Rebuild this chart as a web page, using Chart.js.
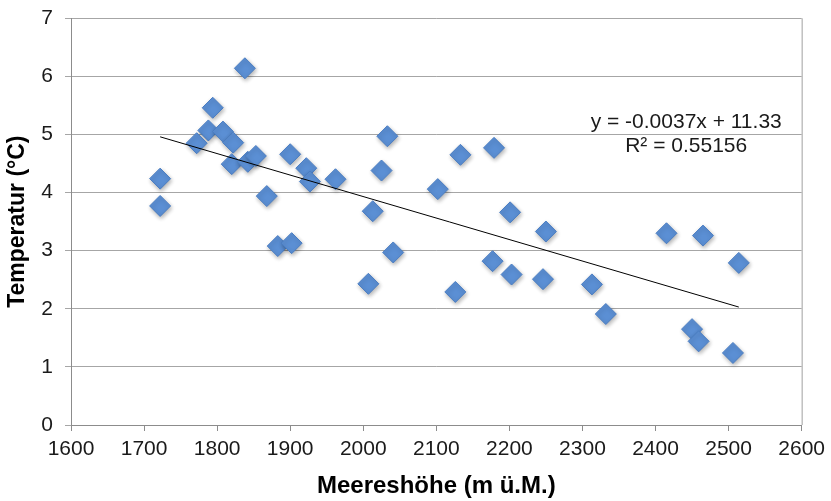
<!DOCTYPE html>
<html>
<head>
<meta charset="utf-8">
<script src="https://cdn.jsdelivr.net/npm/chart.js@4/dist/chart.umd.min.js"></script>
<style>
  html, body { margin: 0; padding: 0; background: #fff; }
  #wrap { width: 831px; height: 501px; }
</style>
</head>
<body>
<div id="wrap"><canvas id="myChart" width="831" height="501"></canvas></div>
<script>
// Messpunkte (Meereshöhe / Temperatur)
const hoehe = [1722, 1722, 1838, 1794, 1788, 1772, 1808, 1822, 1820, 1842,
               1853, 1868, 1883, 1902, 1900, 1922, 1927, 1962, 2033, 2025,
               2013, 2041, 2007, 2133, 2179, 2102, 2201, 2250, 2177, 2203,
               2246, 2126, 2313, 2332, 2415, 2465, 2514, 2450, 2459, 2506];
const temperatur = [4.24, 3.77, 6.14, 5.46, 5.07, 4.85, 5.05, 4.86, 4.49, 4.53,
                    4.63, 3.94, 3.08, 3.13, 4.66, 4.42, 4.19, 4.23, 4.97, 4.38,
                    3.68, 2.97, 2.43, 4.65, 4.77, 4.06, 3.66, 3.33, 2.82, 2.59,
                    2.51, 2.29, 2.42, 1.91, 3.30, 3.26, 2.79, 1.65, 1.44, 1.24];

// lineare Trendlinie (Anfang und Ende)
const trendX = [1722, 2514];
const trendY = [4.96, 2.03];
const gleichung = ['y = -0.0037x + 11.33', 'R² = 0.55156'];

const xTicks = [1600, 1700, 1800, 1900, 2000, 2100, 2200, 2300, 2400, 2500, 2600];
const yTicks = [0, 1, 2, 3, 4, 5, 6, 7];

const punkte = hoehe.map((h, i) => ({ x: h, y: temperatur[i] }));
const trend = trendX.map((h, i) => ({ x: h, y: trendY[i] }));

const schrift = "'Liberation Sans', Arial, sans-serif";

// Schatten unter den Rauten
const schatten = {
    id: 'schatten',
    beforeDatasetDraw(chart, args) {
        if (args.index !== 1) return;
        const ctx = chart.ctx;
        ctx.save();
        ctx.shadowColor = 'rgba(0,0,0,0.3)';
        ctx.shadowBlur = 4;
        ctx.shadowOffsetX = 1;
        ctx.shadowOffsetY = 2;
    },
    afterDatasetDraw(chart, args) {
        if (args.index !== 1) return;
        chart.ctx.restore();
    }
};

// rechter Rand und Gleichung
const extras = {
    id: 'extras',
    afterDraw(chart) {
        const { ctx, chartArea, scales } = chart;
        ctx.save();
        ctx.strokeStyle = '#a0a0a0';
        ctx.lineWidth = 1;
        ctx.beginPath();
        ctx.moveTo(chartArea.right + 0.5, chartArea.top);
        ctx.lineTo(chartArea.right + 0.5, chartArea.bottom);
        ctx.stroke();

        ctx.fillStyle = '#1a1a1a';
        ctx.font = '21px ' + schrift;
        ctx.textAlign = 'center';
        ctx.textBaseline = 'middle';
        const cx = scales.x.getPixelForValue(2442);
        ctx.fillText(gleichung[0], cx, scales.y.getPixelForValue(5.22));
        ctx.fillText(gleichung[1], cx, scales.y.getPixelForValue(4.79));
        ctx.restore();
    }
};

const data = {
    datasets: [{
        type: 'line',
        data: trend,
        borderColor: '#000',
        borderWidth: 1,
        pointRadius: 0,
        fill: false,
        order: 0
    }, {
        type: 'scatter',
        data: punkte,
        pointStyle: 'rectRot',
        pointRadius: 10.5,
        backgroundColor: '#5b8fd4',
        borderColor: '#4a7dc2',
        borderWidth: 1,
        order: 1
    }]
};

const options = {
    responsive: false,
    animation: false,
    layout: { padding: { top: 14, right: 28, left: 0, bottom: 0 } },
    plugins: {
        legend: { display: false },
        tooltip: { enabled: false }
    },
    scales: {
        x: {
            type: 'linear',
            min: 1600,
            max: 2600,
            afterBuildTicks(scale) { scale.ticks = xTicks.map(v => ({ value: v })); },
            afterFit(scale) { scale.height = 76; },
            border: { color: '#8c8c8c', width: 1 },
            grid: { drawOnChartArea: false, drawTicks: true, tickLength: 6, color: '#8c8c8c' },
            ticks: {
                color: '#1a1a1a', font: { family: schrift, size: 21 }, padding: 6, maxRotation: 0,
                callback: v => String(v)
            },
            title: {
                display: true,
                text: 'Meereshöhe (m ü.M.)',
                color: '#000',
                font: { family: schrift, size: 24, weight: 'bold' },
                padding: { top: 2, bottom: 0 }
            }
        },
        y: {
            min: 0,
            max: 7,
            afterBuildTicks(scale) { scale.ticks = yTicks.map(v => ({ value: v })); },
            afterFit(scale) { scale.width = 71; },
            border: { color: '#8c8c8c', width: 1 },
            grid: { color: '#a6a6a6', tickLength: 6 },
            ticks: { color: '#1a1a1a', font: { family: schrift, size: 21, lineHeight: 0.6 }, padding: 12 },
            title: {
                display: true,
                text: 'Temperatur (°C)',
                color: '#000',
                font: { family: schrift, size: 23, weight: 'bold' },
                padding: { top: 4, bottom: 0 }
            }
        }
    }
};

const config = { type: 'scatter', data, options, plugins: [schatten, extras] };

const myChart = new Chart(document.getElementById('myChart').getContext('2d'), config);
</script>
</body>
</html>
